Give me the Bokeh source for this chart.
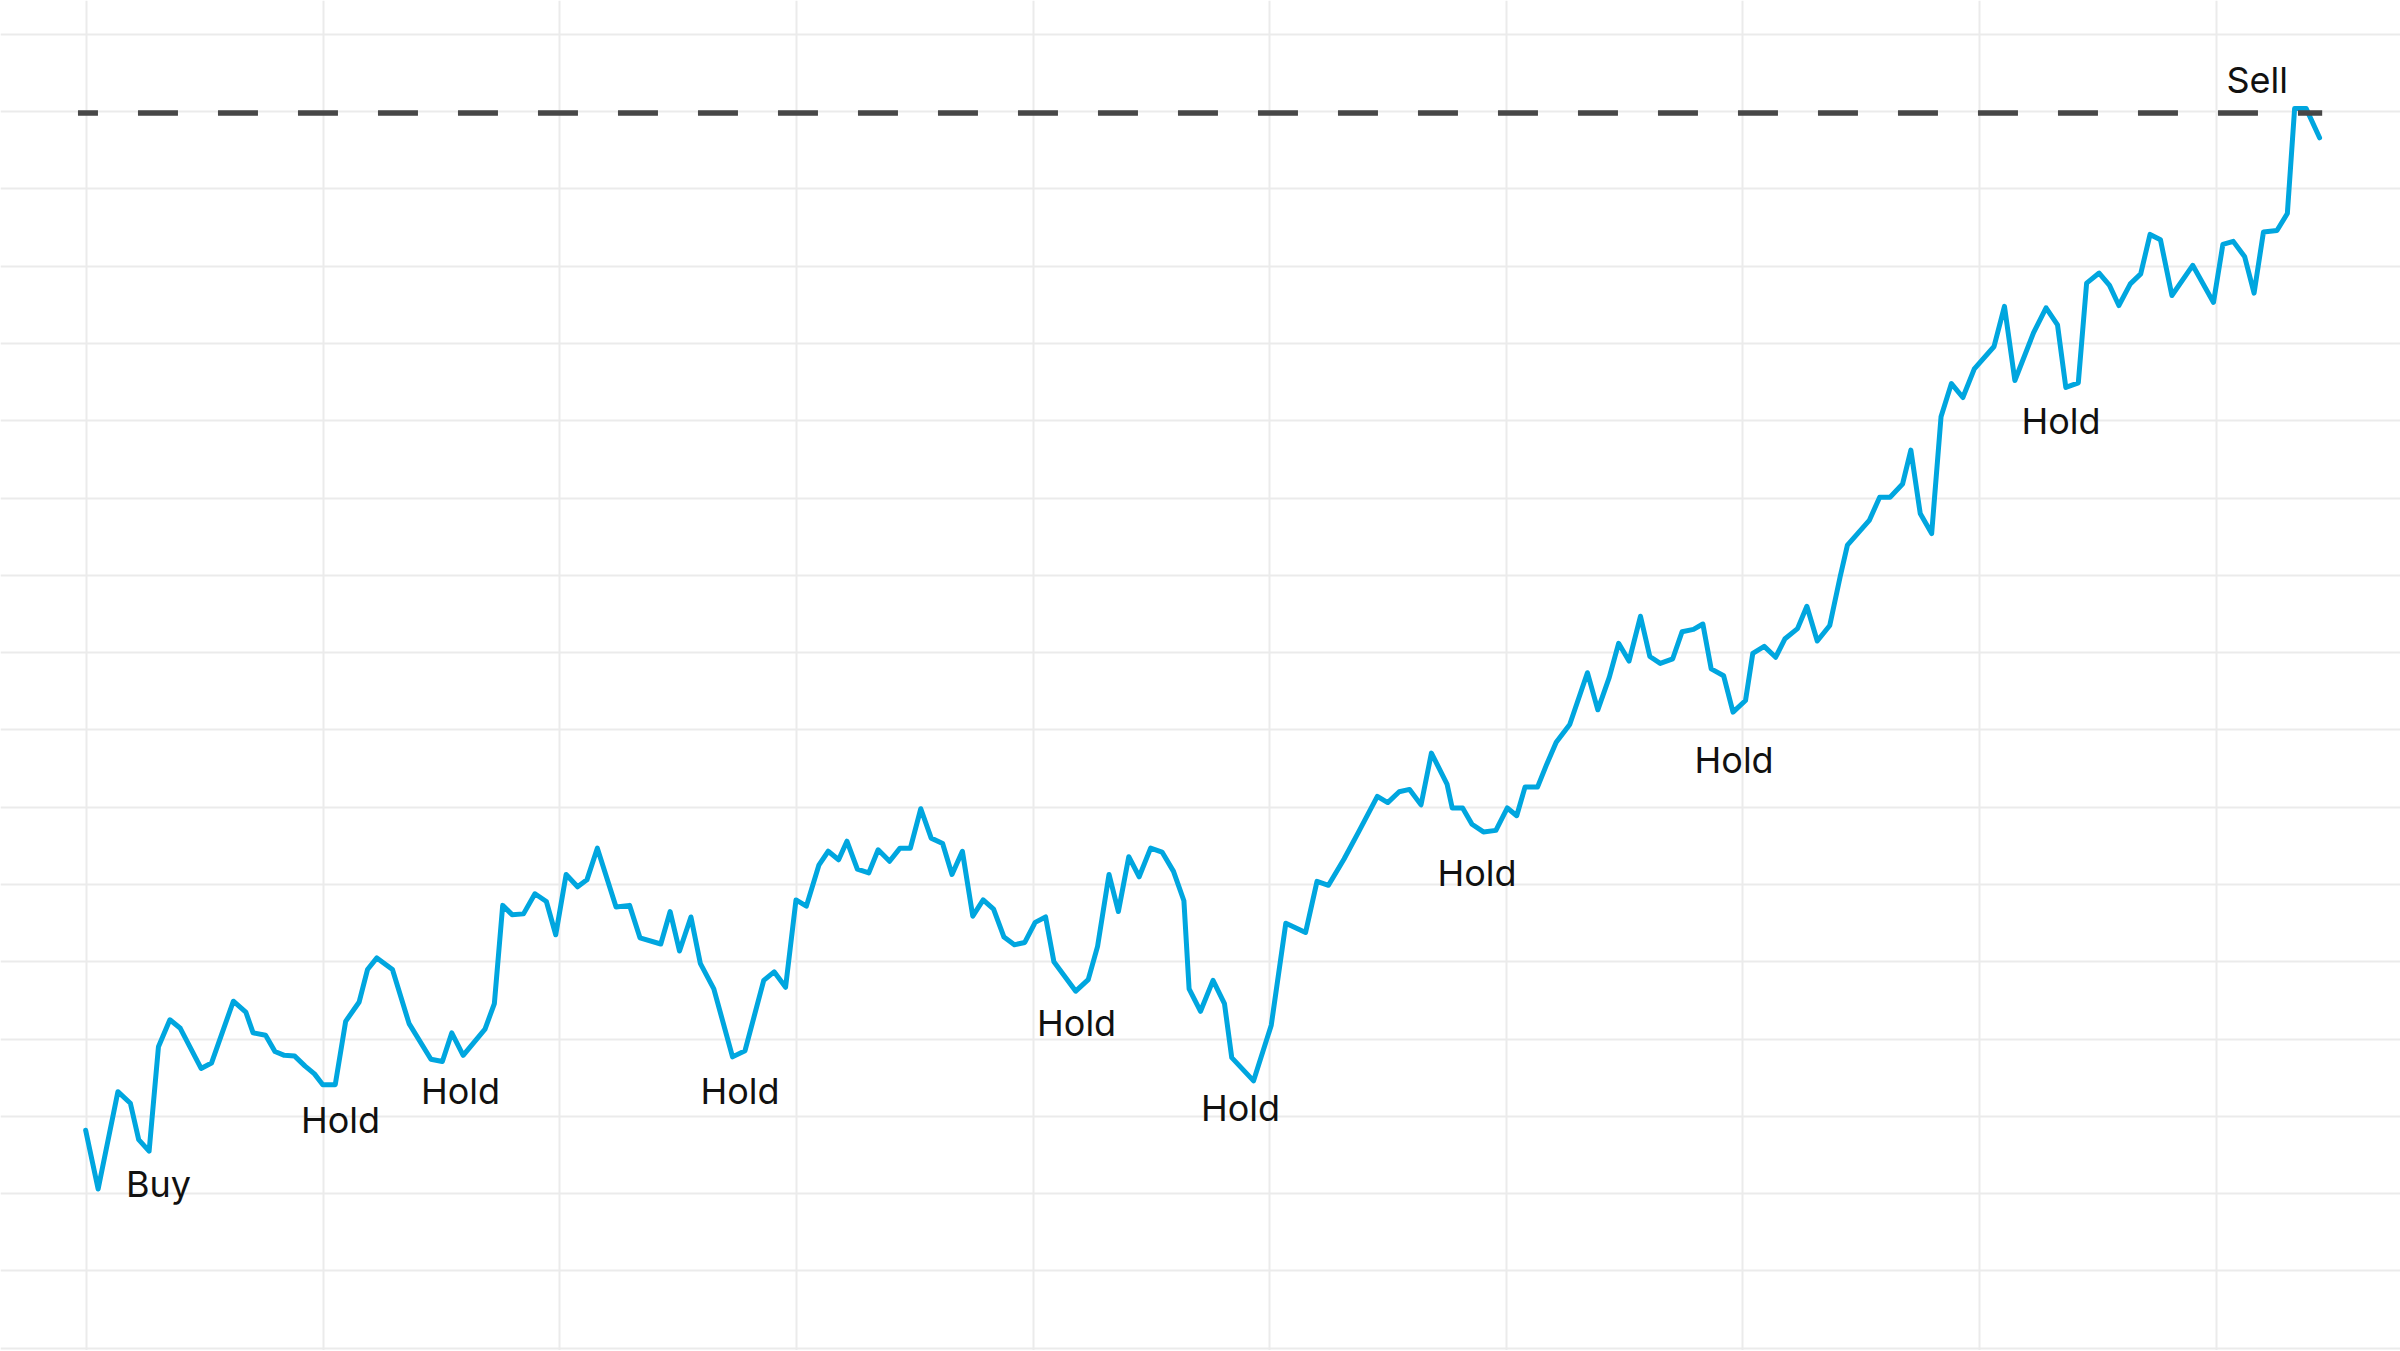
from bokeh.plotting import figure
from bokeh.models import Range1d, FixedTicker, ColumnDataSource
from bokeh.embed import file_html
from bokeh.resources import INLINE
from bokeh.core.properties import value

# ---- data (trading day, price) ----
days = [
    -0.1, 1.1, 3.0, 4.2, 5.0, 6.0, 6.9, 8.0, 9.0, 11.0, 12.0, 14.1, 15.3, 16.0, 17.2,
    18.1, 19.0, 20.0, 21.0, 21.9, 22.7, 23.9, 24.9, 26.2, 27.0, 27.9, 29.4, 31.0, 33.1,
    34.2, 35.1, 36.2, 38.3, 39.2, 40.0, 40.9, 42.0, 43.1, 44.2, 45.1, 46.1, 47.2, 48.1,
    49.1, 50.9, 52.2, 53.2, 55.2, 56.1, 57.0, 58.1, 59.0, 60.3, 62.1, 63.3, 65.1, 66.1,
    67.2, 68.2, 69.2, 70.4, 71.3, 72.3, 73.1, 74.1, 75.2, 76.1, 77.2, 78.2, 79.2, 80.2,
    81.2, 82.3, 83.2, 84.2, 85.2, 86.2, 87.2, 88.2, 89.2, 90.2, 91.2, 92.2, 93.0, 95.1,
    96.3, 97.2, 98.3, 99.2, 100.2, 101.2, 102.3, 103.4, 104.5, 105.5, 106.0, 107.1, 108.3,
    109.4, 110.1, 112.2, 113.9, 115.3, 117.2, 118.3, 119.4, 120.9, 122.3, 124.1, 125.1,
    126.2, 127.2, 128.3, 129.3, 130.8, 131.3, 132.3, 133.2, 134.3, 135.5, 136.6, 137.5,
    138.3, 139.5, 140.4, 141.3, 142.6, 144.3, 145.3, 146.4, 147.3, 148.3, 149.4, 150.3,
    151.3, 152.5, 153.4, 154.5, 155.4, 156.2, 157.4, 158.3, 159.5, 160.2, 161.3, 162.4,
    163.3, 164.5, 165.4, 166.4, 167.6, 168.6, 169.3, 171.4, 172.4, 173.4, 174.6, 175.4,
    176.3, 177.4, 178.3, 179.3, 180.4, 181.5, 183.4, 184.4, 185.4, 187.2, 188.4, 189.5,
    190.3, 191.5, 192.3, 193.5, 194.5, 195.4, 196.5, 197.5, 198.4, 199.4, 200.5, 202.5,
    204.5, 205.4, 206.4, 207.5, 208.4, 209.3, 210.6, 211.6, 212.3, 213.4, 214.7,
]
prices = [
    28.2, 20.6, 33.2, 31.7, 27.0, 25.5, 39.0, 42.5, 41.4, 36.2, 36.9, 44.9, 43.5, 40.8, 40.5,
    38.4, 37.9, 37.8, 36.5, 35.5, 34.1, 34.1, 42.3, 44.8, 49.0, 50.5, 49.0, 42.0, 37.4,
    37.1, 40.8, 37.9, 41.3, 44.6, 57.3, 56.1, 56.2, 58.8, 57.8, 53.5, 61.3, 59.7, 60.6,
    64.7, 57.1, 57.3, 53.1, 52.3, 56.5, 51.4, 55.8, 49.8, 46.5, 37.7, 38.5, 47.6, 48.7,
    46.7, 58.0, 57.2, 62.5, 64.3, 63.2, 65.6, 62.0, 61.5, 64.5, 63.0, 64.7, 64.7, 69.8,
    66.0, 65.3, 61.3, 64.3, 55.9, 58.0, 56.8, 53.2, 52.2, 52.5, 55.1, 55.8, 50.0, 46.2,
    47.7, 52.0, 61.3, 56.5, 63.6, 61.0, 64.7, 64.2, 61.7, 57.9, 46.5, 43.6, 47.6,
    44.6, 37.6, 34.6, 41.8, 55.0, 53.8, 60.4, 59.9, 63.3, 66.8, 71.4, 70.6,
    72.0, 72.3, 70.3, 77.0, 73.0, 69.9, 69.9, 67.8, 66.8, 67.0, 69.9, 68.9,
    72.6, 72.6, 75.6, 78.4, 80.7, 87.4, 82.6, 86.8, 91.2, 88.9, 94.7, 89.5,
    88.6, 89.2, 92.7, 93.0, 93.7, 87.9, 87.0, 82.3, 83.8, 89.9, 90.8, 89.4,
    91.8, 93.1, 96.0, 91.5, 93.5, 99.8, 103.9, 107.1, 110.1, 110.1, 111.8, 116.2,
    108.0, 105.4, 120.5, 124.8, 123.0, 126.7, 129.6, 134.8, 125.2, 131.4, 134.6, 132.4,
    124.3, 124.9, 137.8, 139.1, 137.5, 134.9, 137.7, 139.0, 144.1, 143.4, 136.2, 140.1,
    135.3, 142.8, 143.2, 141.2, 136.5, 144.4, 144.6, 146.8, 160.4, 160.4, 156.6,
]

label_text = ["Buy", "Hold", "Hold", "Hold", "Hold", "Hold", "Hold", "Hold", "Hold", "Sell"]
label_day = [3.78, 20.6, 32.14, 59.02, 91.38, 107.14, 129.88, 154.6, 186.04, 205.75]
label_price = [21.25, 29.58, 33.24, 33.33, 42.04, 31.04, 61.44, 76.15, 120.0, 164.07]

target_price = 159.8
target_days = [-0.84, 214.95]

x_grid_days = [0, 22.75, 45.5, 68.25, 91.0, 113.75, 136.5, 159.25, 182.0, 204.75]
y_grid_prices = [0, 10, 20, 30, 40, 50, 60, 70, 80, 90, 100, 110, 120, 130, 140, 150, 160, 170]

# ---- figure ----
p = figure(
    width=2400, height=1350,
    output_backend="svg", toolbar_location=None,
    x_range=Range1d(-8.288, 222.48), y_range=Range1d(-0.285, 174.36),
    x_axis_location=None, y_axis_location=None,
    min_border=0,
)
p.outline_line_color = None
p.background_fill_color = "white"
p.border_fill_color = "white"

p.xgrid.ticker = FixedTicker(ticks=x_grid_days)
p.ygrid.ticker = FixedTicker(ticks=y_grid_prices)
for g in (p.xgrid, p.ygrid):
    g.grid_line_color = "#ebebeb"
    g.grid_line_width = 2

p.line(days, prices, line_color="#00A6DF", line_width=5, line_join="round", line_cap="round")

p.line(target_days, [target_price, target_price], line_color="#474747", line_width=5.5,
       line_dash="40 40", line_dash_offset=20, line_cap="butt")

src = ColumnDataSource(dict(x=label_day, y=label_price, t=label_text))
p.text(x="x", y="y", text="t", source=src, text_font=value("Inter"),
       text_font_size=value("36px"), text_color="#111111",
       text_align="left", text_baseline="alphabetic")

open("out.html", "w").write(file_html(p, INLINE))
